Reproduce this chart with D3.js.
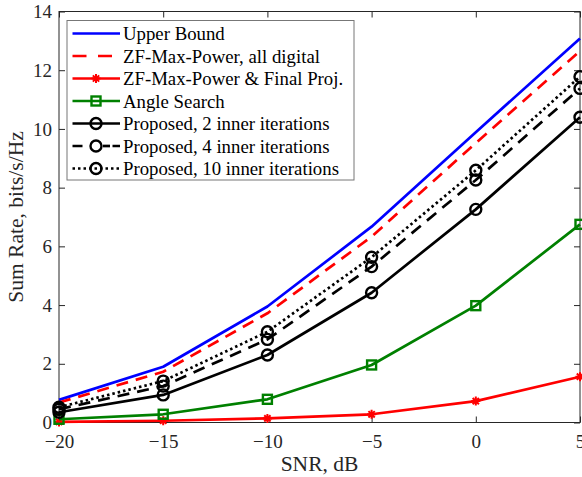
<!DOCTYPE html>
<html><head><meta charset="utf-8">
<script src="https://cdn.jsdelivr.net/npm/d3@7"></script>
<style>body{margin:0;background:#fff}svg{display:block}</style>
</head><body>
<svg id="c" width="582" height="477"></svg>
<script>
const snr = [-20, -15, -10, -5, 0, 5];
const upperBound = [0.77, 1.90, 3.95, 6.67, 9.89, 13.08];
const zfDigital = [0.68, 1.73, 3.72, 6.33, 9.52, 12.65];
const zfFinalProj = [0.02, 0.06, 0.14, 0.28, 0.73, 1.56];
const angleSearch = [0.11, 0.28, 0.79, 1.96, 3.98, 6.75];
const proposed2 = [0.35, 0.94, 2.30, 4.42, 7.26, 10.40];
const proposed4 = [0.45, 1.24, 2.83, 5.31, 8.26, 11.38];
const proposed10 = [0.52, 1.41, 3.09, 5.63, 8.59, 11.78];
const xTicks = [-20, -15, -10, -5, 0, 5];
const yTicks = [0, 2, 4, 6, 8, 10, 12, 14];
const seriesNames = ["Upper Bound", "ZF-Max-Power, all digital", "ZF-Max-Power & Final Proj.", "Angle Search",
  "Proposed, 2 inner iterations", "Proposed, 4 inner iterations", "Proposed, 10 inner iterations"];

const series = [
  {name: seriesNames[0], v: upperBound, color: "#0000ff", dash: null, ldash: null, marker: null},
  {name: seriesNames[1], v: zfDigital, color: "#ff0000", dash: "12,8", ldash: "14,11.5", marker: null},
  {name: seriesNames[2], v: zfFinalProj, color: "#ff0000", dash: null, ldash: null, marker: "star"},
  {name: seriesNames[3], v: angleSearch, color: "#008000", dash: null, ldash: null, marker: "square"},
  {name: seriesNames[4], v: proposed2, color: "#000000", dash: null, ldash: null, marker: "circle"},
  {name: seriesNames[5], v: proposed4, color: "#000000", dash: "12,8", ldash: "10,30", marker: "circle"},
  {name: seriesNames[6], v: proposed10, color: "#000000", dash: "2.5,3", ldash: "2.5,3", marker: "circle"}
];

const L = 59, R = 580, T = 11.5, B = 422.5;
const svg = d3.select("#c");
const font = "'Liberation Serif','Times New Roman',serif";
const x = d3.scaleLinear().domain([-20, 5]).range([L, R]);
const y = d3.scaleLinear().domain([0, 14]).range([B, T]);

svg.append("rect").attr("x", L).attr("y", T).attr("width", R - L).attr("height", B - T).attr("fill", "#fff");

const axColor = "#262626";
function styleAxis(g) {
  g.select(".domain").remove();
  g.selectAll("line").attr("stroke", axColor).attr("stroke-width", 1);
  g.selectAll("text").attr("font-family", font).attr("font-size", 19).attr("fill", axColor);
}
svg.append("g").attr("transform", `translate(0,${B})`)
  .call(d3.axisBottom(x).tickValues(xTicks).tickSize(-6).tickPadding(12.5).tickFormat(d3.format("d")))
  .call(styleAxis);
svg.append("g").attr("transform", `translate(0,${T})`)
  .call(d3.axisTop(x).tickValues(xTicks).tickSize(-6).tickFormat(""))
  .call(styleAxis);
svg.append("g").attr("transform", `translate(${L},0)`)
  .call(d3.axisLeft(y).tickValues(yTicks).tickSize(-6).tickPadding(7).tickFormat(d3.format("d")))
  .call(styleAxis);
svg.append("g").attr("transform", `translate(${R},0)`)
  .call(d3.axisRight(y).tickValues(yTicks).tickSize(-6).tickFormat(""))
  .call(styleAxis);
svg.append("rect").attr("x", L).attr("y", T).attr("width", R - L).attr("height", B - T)
  .attr("fill", "none").attr("stroke", axColor).attr("stroke-width", 1);

const line = d3.line().x((d, i) => x(snr[i])).y(d => y(d));
const plot = svg.append("g");

function drawMarker(g, type, cx, cy, color) {
  if (type === "circle") {
    g.append("circle").attr("cx", cx).attr("cy", cy).attr("r", 5.5)
      .attr("fill", "none").attr("stroke", color).attr("stroke-width", 2.4);
  } else if (type === "square") {
    g.append("rect").attr("x", cx - 4.5).attr("y", cy - 4.5).attr("width", 9).attr("height", 9)
      .attr("fill", "none").attr("stroke", color).attr("stroke-width", 2.4);
  } else if (type === "star") {
    const s = 4.5;
    const p = `M${cx - s},${cy}L${cx + s},${cy}M${cx},${cy - s}L${cx},${cy + s}` +
      `M${cx - s * 0.7},${cy - s * 0.7}L${cx + s * 0.7},${cy + s * 0.7}` +
      `M${cx - s * 0.7},${cy + s * 0.7}L${cx + s * 0.7},${cy - s * 0.7}`;
    g.append("path").attr("d", p).attr("stroke", color).attr("stroke-width", 2).attr("fill", "none");
  }
}

series.forEach(s => {
  const g = plot.append("g");
  g.append("path").datum(s.v).attr("d", line).attr("fill", "none")
    .attr("stroke", s.color).attr("stroke-width", 2.7)
    .attr("stroke-dasharray", s.dash).attr("stroke-linejoin", "round");
  if (s.marker) s.v.forEach((d, i) => drawMarker(g, s.marker, x(snr[i]), y(d), s.color));
});

// legend
const lg = svg.append("g");
const lx = 67, ly = 20.5, lw = 287, lh = 159.5;
lg.append("rect").attr("x", lx).attr("y", ly).attr("width", lw).attr("height", lh)
  .attr("fill", "#fff").attr("stroke", "#777").attr("stroke-width", 1);
series.forEach((s, i) => {
  const yy = ly + 13 + i * 22.5;
  lg.append("line").attr("x1", 72.5).attr("x2", 120).attr("y1", yy).attr("y2", yy)
    .attr("stroke", s.color).attr("stroke-width", 2.7).attr("stroke-dasharray", s.ldash);
  if (s.ldash === "10,30") {
    lg.append("line").attr("x1", 103).attr("x2", 110).attr("y1", yy).attr("y2", yy)
      .attr("stroke", s.color).attr("stroke-width", 2.7);
  }
  if (s.marker) drawMarker(lg, s.marker, 96, yy, s.color);
  lg.append("text").attr("x", 123).attr("y", yy).attr("dy", "0.35em")
    .attr("font-family", font).attr("font-size", 18.8).attr("fill", "#000").text(s.name);
});

svg.append("text").attr("x", (L + R) / 2).attr("y", 471).attr("text-anchor", "middle")
  .attr("font-family", font).attr("font-size", 21.5).attr("fill", axColor).text("SNR, dB");
svg.append("text").attr("transform", `translate(23,${(T + B) / 2}) rotate(-90)`).attr("text-anchor", "middle")
  .attr("font-family", font).attr("font-size", 21.5).attr("fill", axColor).text("Sum Rate, bits/s/Hz");
</script>
</body></html>
